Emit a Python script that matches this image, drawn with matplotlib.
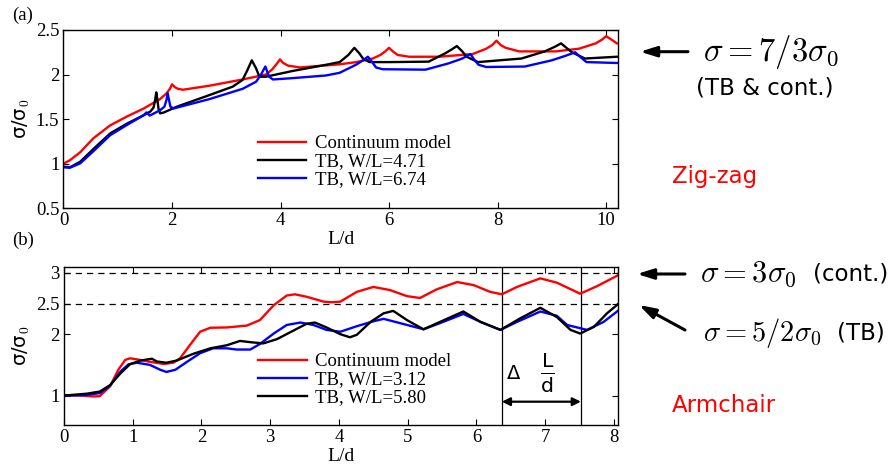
import numpy as np
import matplotlib
matplotlib.use('Agg')
import matplotlib.pyplot as plt

plt.rcParams['mathtext.fontset'] = 'cm'
serif = 'Liberation Serif'
sans = 'DejaVu Sans'

# ---- (a) zig-zag ----
zz_cont_x = [0.00, 0.12, 0.31, 0.55, 0.86, 1.17, 1.48, 1.78, 1.90, 1.96, 2.00, 2.05, 2.11, 2.20, 2.69,
             3.30, 3.73, 3.85, 3.93, 3.99, 4.05, 4.14, 4.36, 5.09, 5.40, 5.70, 5.84, 5.93, 6.00, 6.07,
             6.16, 6.37, 6.92, 7.54, 7.79, 7.90, 7.98, 8.06, 8.15, 8.40, 9.07, 9.50, 9.81, 9.92, 10.00,
             10.08, 10.20]
zz_cont_y = [1.00, 1.04, 1.13, 1.285, 1.43, 1.53, 1.62, 1.725, 1.79, 1.84, 1.89, 1.86, 1.84, 1.83, 1.875,
             1.945, 2.00, 2.06, 2.12, 2.17, 2.13, 2.10, 2.08, 2.115, 2.14, 2.18, 2.22, 2.26, 2.30, 2.26,
             2.22, 2.20, 2.20, 2.23, 2.29, 2.33, 2.38, 2.33, 2.30, 2.26, 2.26, 2.29, 2.35, 2.39, 2.43,
             2.40, 2.35]

zz_tb1_x = [0.00, 0.12, 0.31, 0.55, 0.86, 1.17, 1.48, 1.60, 1.66, 1.69, 1.71, 1.73, 1.75, 1.78, 1.85,
            2.09, 2.69, 3.12, 3.30, 3.39, 3.47, 3.55, 3.61, 3.73, 4.22, 4.84, 5.09, 5.25, 5.36, 5.45,
            5.52, 5.64, 6.00, 6.73, 7.04, 7.15, 7.25, 7.35, 7.43, 7.64, 8.44, 8.87, 9.05, 9.17, 9.27,
            9.37, 9.61, 10.20]
zz_tb1_y = [0.967, 0.96, 1.023, 1.165, 1.34, 1.45, 1.545, 1.585, 1.63, 1.72, 1.80, 1.72, 1.62, 1.565, 1.575,
            1.64, 1.77, 1.865, 1.94, 2.05, 2.16, 2.07, 1.976, 1.976, 2.04, 2.11, 2.14, 2.22, 2.30, 2.24,
            2.18, 2.14, 2.14, 2.145, 2.24, 2.28, 2.32, 2.26, 2.20, 2.14, 2.18, 2.26, 2.31, 2.35, 2.30,
            2.25, 2.18, 2.20]

zz_tb2_x = [0.00, 0.12, 0.31, 0.55, 0.86, 1.17, 1.48, 1.53, 1.59, 1.78, 1.86, 1.90, 1.92, 1.95, 1.97,
            2.03, 2.69, 3.30, 3.55, 3.64, 3.72, 3.79, 3.86, 4.22, 4.84, 5.09, 5.39, 5.52, 5.61, 5.69,
            5.76, 5.88, 6.67, 7.10, 7.35, 7.50, 7.58, 7.65, 7.79, 8.50, 9.00, 9.25, 9.43, 9.54, 9.64,
            10.20]
zz_tb2_y = [0.96, 0.955, 1.005, 1.14, 1.32, 1.435, 1.545, 1.576, 1.54, 1.60, 1.64, 1.72, 1.79, 1.70, 1.64,
            1.62, 1.725, 1.84, 1.92, 2.00, 2.09, 1.976, 1.945, 1.96, 1.99, 2.02, 2.11, 2.16, 2.20, 2.14,
            2.08, 2.06, 2.055, 2.126, 2.18, 2.23, 2.16, 2.11, 2.085, 2.09, 2.16, 2.21, 2.25, 2.19, 2.14,
            2.13]

# ---- (b) armchair ----
ac_cont_x = [0.00, 0.23, 0.43, 0.52, 0.67, 0.79, 0.89, 0.96, 1.06, 1.25, 1.45, 1.59, 1.69, 1.83, 1.98,
             2.13, 2.37, 2.66, 2.85, 3.05, 3.24, 3.36, 3.53, 3.78, 3.90, 4.02, 4.26, 4.50, 4.74, 4.99,
             5.18, 5.42, 5.72, 5.96, 6.20, 6.37, 6.59, 6.93, 7.17, 7.51, 7.75, 8.06]
ac_cont_y = [1.00, 1.00, 0.985, 0.99, 1.15, 1.42, 1.58, 1.607, 1.59, 1.55, 1.515, 1.535, 1.61, 1.82, 2.04,
             2.105, 2.11, 2.14, 2.23, 2.47, 2.63, 2.65, 2.61, 2.53, 2.52, 2.53, 2.69, 2.77, 2.72, 2.62,
             2.59, 2.73, 2.85, 2.80, 2.69, 2.65, 2.77, 2.91, 2.84, 2.66, 2.78, 2.96]

ac_tb1_x = [0.00, 0.33, 0.52, 0.67, 0.82, 0.94, 1.06, 1.25, 1.40, 1.49, 1.62, 1.79, 1.98, 2.17, 2.37,
            2.51, 2.71, 2.85, 3.05, 3.24, 3.44, 3.63, 3.82, 4.02, 4.26, 4.50, 4.65, 4.89, 5.23, 5.47,
            5.81, 6.06, 6.35, 6.59, 6.93, 7.17, 7.32, 7.61, 7.85, 8.07]
ac_tb1_y = [1.00, 1.01, 1.04, 1.16, 1.39, 1.51, 1.535, 1.50, 1.42, 1.385, 1.42, 1.55, 1.69, 1.77, 1.77,
            1.75, 1.75, 1.84, 2.01, 2.15, 2.19, 2.15, 2.07, 2.04, 2.13, 2.21, 2.25, 2.18, 2.08, 2.18,
            2.33, 2.20, 2.07, 2.20, 2.37, 2.30, 2.15, 2.07, 2.20, 2.39]

ac_tb2_x = [0.00, 0.33, 0.52, 0.67, 0.82, 0.96, 1.11, 1.28, 1.35, 1.49, 1.64, 1.88, 2.13, 2.37, 2.56,
            2.71, 2.90, 3.10, 3.34, 3.53, 3.65, 3.82, 4.02, 4.16, 4.26, 4.46, 4.65, 4.79, 4.99, 5.23,
            5.47, 5.81, 6.06, 6.35, 6.64, 6.93, 7.17, 7.37, 7.51, 7.71, 7.90, 8.07]
ac_tb2_y = [1.00, 1.03, 1.065, 1.17, 1.36, 1.51, 1.57, 1.60, 1.555, 1.535, 1.57, 1.68, 1.77, 1.82, 1.89,
            1.87, 1.85, 1.92, 2.06, 2.17, 2.19, 2.11, 2.00, 1.95, 1.99, 2.20, 2.34, 2.38, 2.23, 2.08,
            2.20, 2.37, 2.20, 2.07, 2.26, 2.43, 2.28, 2.07, 2.01, 2.12, 2.34, 2.50]

limits_b = [3.0, 2.5]
period_marks = [6.37, 7.52]

W, H = 891, 465
fig = plt.figure(figsize=(W / 100, H / 100), dpi=100)


def fx(px):
    return px / W


def fy(py):
    return 1 - py / H


def style_axes(ax):
    ax.tick_params(direction='in', top=True, right=True, length=4, width=0.8,
                   labelsize=13.5, pad=3)
    for lab in ax.get_xticklabels() + ax.get_yticklabels():
        lab.set_family(serif)
    for s in ax.spines.values():
        s.set_linewidth(1.0)
    ax.set_xlabel('L/d', family=serif, fontsize=14, labelpad=1)
    ax.set_ylabel(r'σ/σ$_0$', family=sans, fontsize=14, labelpad=3)


lw = 1.7

ax1 = fig.add_axes([fx(63.5), fy(208.3), fx(618 - 63.5), (208.3 - 30) / H])
l_c, = ax1.plot(zz_cont_x, zz_cont_y, color='red', lw=lw, label='Continuum model')
l_1, = ax1.plot(zz_tb1_x, zz_tb1_y, color='black', lw=lw, label='TB, W/L=4.71')
l_2, = ax1.plot(zz_tb2_x, zz_tb2_y, color='blue', lw=lw, label='TB, W/L=6.74')
ax1.set_xlim(0, 10.22)
ax1.set_ylim(0.5, 2.5)
ax1.set_xticks([0, 2, 4, 6, 8, 10])
ax1.set_yticks([0.5, 1, 1.5, 2, 2.5])
ax1.set_yticklabels(['0.5', '1', '1.5', '2', '2.5'])
style_axes(ax1)
ax1.legend(handles=[l_c, l_1, l_2], loc='upper left', bbox_to_anchor=(0.35, 0.41),
           frameon=False, borderpad=0, borderaxespad=0, handlelength=2.6,
           handletextpad=0.45, labelspacing=0.05, prop={'family': serif, 'size': 13.5})

ax2 = fig.add_axes([fx(64), fy(425), fx(618 - 64), (425 - 266.7) / H])
for lv in limits_b:
    ax2.axhline(lv, color='black', lw=0.9, ls=(0, (5, 4)))
for xv in period_marks:
    ax2.axvline(xv, color='black', lw=0.9)
m_c, = ax2.plot(ac_cont_x, ac_cont_y, color='red', lw=lw, label='Continuum model')
m_1, = ax2.plot(ac_tb1_x, ac_tb1_y, color='blue', lw=lw, label='TB, W/L=3.12')
m_2, = ax2.plot(ac_tb2_x, ac_tb2_y, color='black', lw=lw, label='TB, W/L=5.80')
ax2.set_xlim(0, 8.06)
ax2.set_ylim(0.52, 3.1)
ax2.set_xticks(range(9))
ax2.set_yticks([1, 2, 2.5, 3])
ax2.set_yticklabels(['1', '2', '2.5', '3'])
style_axes(ax2)
ax2.legend(handles=[m_c, m_1, m_2], loc='upper left', bbox_to_anchor=(0.35, 0.455),
           frameon=False, borderpad=0, borderaxespad=0, handlelength=2.6,
           handletextpad=0.45, labelspacing=0.05, prop={'family': serif, 'size': 13.5})

# period arrow and label
ax2.annotate('', xy=(period_marks[0], 0.90), xytext=(period_marks[1], 0.90),
             arrowprops=dict(arrowstyle='<|-|>', color='black', lw=1.6,
                             mutation_scale=12, shrinkA=0, shrinkB=0))
ax2.text(6.54, 1.36, 'Δ', family=sans, fontsize=14, ha='center', va='center')
ax2.text(7.03, 1.36, r'$\frac{\mathsf{L}}{\mathsf{d}}$', math_fontfamily='dejavusans',
         fontsize=21, ha='center', va='center')

fig.text(fx(12), fy(15), '(a)', family=serif, fontsize=13.5, va='center')
fig.text(fx(12), fy(240), '(b)', family=serif, fontsize=13.5, va='center')

# right-hand notes
arr = dict(arrowstyle='-|>,head_length=0.7,head_width=0.22', color='black', lw=2.2,
           mutation_scale=14, shrinkA=0, shrinkB=0)
fig.add_artist(matplotlib.patches.FancyArrowPatch((fx(688), fy(51.7)), (fx(640), fy(51.7)),
                                                  transform=fig.transFigure, **arr))
fig.add_artist(matplotlib.patches.FancyArrowPatch((fx(685), fy(274)), (fx(637), fy(274)),
                                                  transform=fig.transFigure, **arr))
fig.add_artist(matplotlib.patches.FancyArrowPatch((fx(685), fy(330)), (fx(639), fy(305)),
                                                  transform=fig.transFigure, **arr))

fig.text(fx(703), fy(52), r'$\sigma = 7/3\sigma_0$', fontsize=23.5, va='center')
fig.text(fx(696), fy(88), '(TB & cont.)', family=sans, fontsize=16.5, va='center')
fig.text(fx(672), fy(177), 'Zig-zag', family=sans, fontsize=16.5, color='red', va='center')
fig.text(fx(700), fy(274), r'$\sigma = 3\sigma_0$', fontsize=22, va='center')
fig.text(fx(813), fy(274), '(cont.)', family=sans, fontsize=16.5, va='center')
fig.text(fx(703), fy(333), r'$\sigma = 5/2\sigma_0$', fontsize=20.5, va='center')
fig.text(fx(837), fy(333), '(TB)', family=sans, fontsize=16.5, va='center')
fig.text(fx(672), fy(405), 'Armchair', family=sans, fontsize=16.5, color='red', va='center')

fig.savefig('out.png', dpi=100)
